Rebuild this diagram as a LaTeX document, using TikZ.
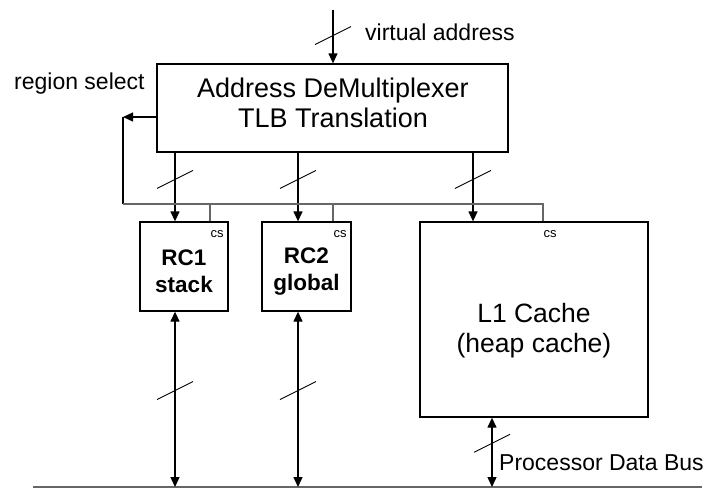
\documentclass[tikz,border=0pt]{standalone}
\usepackage{fontspec}
\setmainfont{Liberation Sans}
\usepackage{tikz}
\usetikzlibrary{arrows.meta,positioning,calc}

\begin{document}
\begin{tikzpicture}[
	x=1pt, y=-1pt,
	every node/.style={inner sep=0pt},
	box/.style={draw, line width=1.3pt},
	rcbox/.style={box, minimum width=88pt, minimum height=89pt},
	rctxt/.style={align=center, font=\fontsize{22.5}{27}\selectfont\bfseries},
	lbl/.style={font=\fontsize{23}{27}\selectfont},
	cslbl/.style={font=\fontsize{13}{15}\selectfont},
	arrow/.style={-{Triangle[length=10pt,width=9pt]}, line width=1.3pt},
	dbarrow/.style={{Triangle[length=10pt,width=9pt]}-{Triangle[length=10pt,width=9pt]}, line width=1.3pt},
	csline/.style={line width=1.3pt, draw=black!60},
	slash/.style={line width=0.9pt}
	]
	
	\useasboundingbox (0,0) rectangle (709,488);
	
	% boxes
	\node[box, minimum width=351pt, minimum height=88pt] (demux) at (332.5,108) {};
	\node[align=center, font=\fontsize{27}{30}\selectfont] (demuxtxt) at (333,102.5)
	      {Address DeMultiplexer\\TLB Translation};
	\node[rcbox] (rc1) at (184,266.5) {};
	\node[rctxt] (rc1txt) at ([yshift=-5pt]rc1.center) {RC1\\stack};
	\node[rcbox, minimum width=89pt] (rc2) at (306.5,266.5) {};
	\node[rctxt] (rc2txt) at ([yshift=-5pt]rc2.center) {RC2\\global};
	\node[box, minimum width=228pt, minimum height=195pt] (l1) at (534,319.5) {};
	\node[align=center, font=\fontsize{26.5}{30}\selectfont] (l1txt) at (534,331)
	      {L1 Cache\\(heap cache)};
	
	% labels
	\node[lbl, anchor=west] (va) at (365,32) {virtual address};
	\node[lbl, anchor=west] (rsel) at (14,84) {region select};
	\node[lbl, anchor=west] (pdb) at (499,463) {Processor Data Bus};
	
	% coordinates
	\coordinate (vain) at (333,10);
	\coordinate (r1in) at ([xshift=-9pt]rc1.north);
	\coordinate (r2in) at ([xshift=-8.5pt]rc2.north);
	\coordinate (l1in) at ([xshift=-61pt]l1.north);
	\coordinate (cs1) at ([xshift=26pt]rc1.north);
	\coordinate (cs2) at ([xshift=26.5pt]rc2.north);
	\coordinate (cs3) at ([xshift=9pt]l1.north);
	\coordinate (rs) at (123,117);
	\coordinate (csbus) at (123,204);
	\coordinate (busl) at (33,487);
	\coordinate (busr) at (702,487);
	
	% address lines
	\draw[arrow] (vain) -- coordinate[pos=0.48] (s0) (vain |- demux.north);
	\draw[arrow] (demux.south -| r1in) -- coordinate[pos=0.39] (s1) (r1in);
	\draw[arrow] (demux.south -| r2in) -- coordinate[pos=0.39] (s2) (r2in);
	\draw[arrow] (demux.south -| l1in) -- coordinate[pos=0.39] (s3) (l1in);
	
	% region select / chip select
	\draw[arrow] (demux.west |- rs) -- (rs);
	\draw[line width=1.3pt] (rs) -- (csbus);
	\draw[csline] (csbus) -- (csbus -| cs3) -- (cs3);
	\draw[csline] (csbus -| cs1) -- (cs1);
	\draw[csline] (csbus -| cs2) -- (cs2);
	\node[cslbl] (cs1txt) at ([shift={(7,13)}]cs1) {cs};
	\node[cslbl] (cs2txt) at ([shift={(7,13)}]cs2) {cs};
	\node[cslbl] (cs3txt) at ([shift={(7,13)}]cs3) {cs};
	
	% data bus
	\draw[line width=1.3pt, draw=black!60] (busl) -- (busr);
	\draw[dbarrow] (rc1.south -| r1in) -- coordinate[pos=0.45] (s4) (busl -| r1in);
	\draw[dbarrow] (rc2.south -| r2in) -- coordinate[pos=0.45] (s5) (busl -| r2in);
	\draw[dbarrow] ([xshift=-42pt]l1.south) -- coordinate[pos=0.37] (s6) ([xshift=-42pt]l1.south |- busl);
	
	% bus width marks
	\foreach \s in {s0,s1,s2,s3,s4,s5,s6}
		\draw[slash] ([shift={(-18,9)}]\s) -- ([shift={(18,-9)}]\s);
	
\end{tikzpicture}
\end{document}
